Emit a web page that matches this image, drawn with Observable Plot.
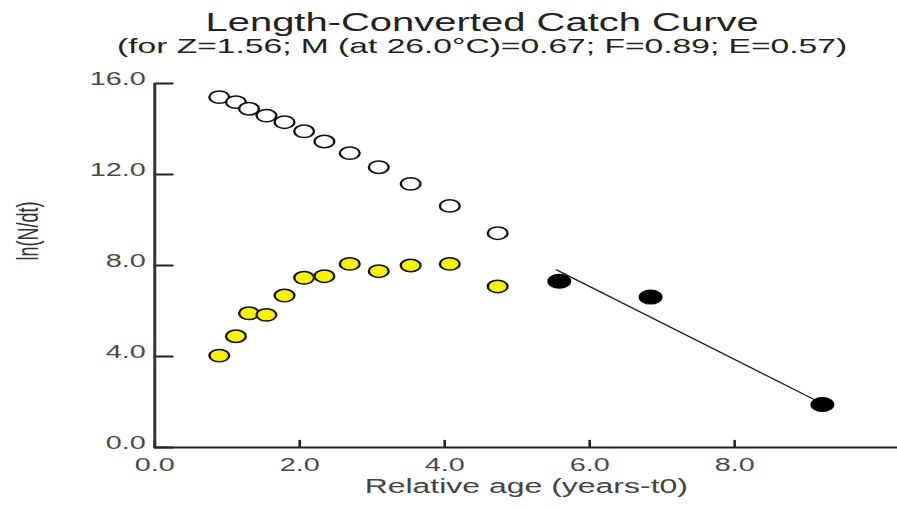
<!DOCTYPE html>
<html>
<head>
<meta charset="utf-8">
<script src="https://cdn.jsdelivr.net/npm/d3@7"></script>
<script src="https://cdn.jsdelivr.net/npm/@observablehq/plot@0.6"></script>
<style>
  html, body { margin: 0; padding: 0; background: #fff; }
  body { width: 897px; height: 510px; overflow: hidden; position: relative; }
  #wrap { position: absolute; left: 0; top: 0; width: 561px; height: 510px;
          transform: scaleX(1.5989); transform-origin: 0 0; font-family: "Liberation Sans", Arial, sans-serif; }
  .t { position: absolute; width: 561px; text-align: center; white-space: nowrap; color: #222; }
  #title { top: 10px; left: 21px; font-size: 25px; line-height: 25px; }
  #subtitle { top: 35px; left: 21px; font-size: 21px; line-height: 21px; }
  #chart { position: absolute; left: 0; top: 60px; }
</style>
</head>
<body>
<div id="wrap">
  <div id="title" class="t">Length-Converted Catch Curve</div>
  <div id="subtitle" class="t">(for Z=1.56; M (at 26.0°C)=0.67; F=0.89; E=0.57)</div>
  <div id="chart"></div>
</div>
<script>
// Relative age (years - t0) of the length classes
const ages = [0.89, 1.12, 1.30, 1.54, 1.79, 2.06, 2.34, 2.69, 3.09, 3.53, 4.07, 4.73];
// Expected points (open circles)
const expectedLn = [15.40, 15.18, 14.89, 14.59, 14.30, 13.90, 13.45, 12.94, 12.32, 11.59, 10.62, 9.42];
// Points not used in regression (yellow)
const excludedLn = [4.04, 4.89, 5.90, 5.83, 6.68, 7.46, 7.53, 8.07, 7.75, 8.00, 8.07, 7.08];
// Points used in regression (black)
const usedAges = [5.58, 6.84, 9.21];
const usedLn = [7.31, 6.61, 1.89];
// Regression line end points
const lineAges = [5.54, 9.12];
const lineLn = [7.81, 2.07];
// Axis ticks
const xTicks = [0, 2, 4, 6, 8];
const yTicks = [0, 4, 8, 12, 16];

const expected = ages.map((a, i) => ({age: a, ln: expectedLn[i]}));
const excluded = ages.map((a, i) => ({age: a, ln: excludedLn[i]}));
const used = usedAges.map((a, i) => ({age: a, ln: usedLn[i]}));
const line = lineAges.map((a, i) => ({age: a, ln: lineLn[i]}));

const fmt = d3.format(".1f");
// straight tick shape for inward ticks
const tickShape = {draw(context, l) { context.moveTo(0, 0); context.lineTo(0, -l); }};

const chart = Plot.plot({
  width: 561,
  height: 450,
  marginLeft: 96.3,
  marginRight: 0,
  marginTop: 23,
  marginBottom: 63,
  style: {fontFamily: "'Liberation Sans', Arial, sans-serif", fontSize: "18px", background: "white", overflow: "visible"},
  x: {domain: [0, 10.25]},
  y: {domain: [0, 16]},
  marks: [
    Plot.axisX(xTicks, {tickSize: 0, tickPadding: 11, tickFormat: fmt, fill: "#4a4a4a", fontSize: 18, label: null}),
    Plot.axisY(yTicks, {tickSize: 0, tickPadding: 5.7, tickFormat: fmt, fill: "#4a4a4a", fontSize: 18, dy: -4, label: null}),
    Plot.vector(xTicks, {x: d => d, y: 0, length: 7, rotate: 0, anchor: "start", shape: tickShape, stroke: "#222", strokeWidth: 1.6}),
    Plot.vector(yTicks, {x: 0, y: d => d, length: 11, rotate: 90, anchor: "start", shape: tickShape, stroke: "#222", strokeWidth: 1.8}),
    Plot.ruleX([0], {stroke: "#333", strokeWidth: 1.9}),
    Plot.ruleY([0], {stroke: "#222", strokeWidth: 2}),
    Plot.text(["Relative age (years-t0)"], {frameAnchor: "bottom", dy: 45, fontSize: 20, fill: "#444"}),
    Plot.text(["ln(N/dt)"], {frameAnchor: "left", dx: -79, dy: -5, rotate: -90, fontSize: 18, fill: "#333"}),
    Plot.line(line, {x: "age", y: "ln", stroke: "#222", strokeWidth: 1.2}),
    Plot.dot(expected, {x: "age", y: "ln", r: 6.2, fill: "white", stroke: "#111", strokeWidth: 1.5}),
    Plot.dot(excluded, {x: "age", y: "ln", r: 6.2, fill: "#f6f200", stroke: "#111", strokeWidth: 1.5}),
    Plot.dot(used, {x: "age", y: "ln", r: 7, fill: "#000", stroke: "#000", strokeWidth: 1})
  ]
});
document.getElementById("chart").appendChild(chart);
</script>
</body>
</html>
